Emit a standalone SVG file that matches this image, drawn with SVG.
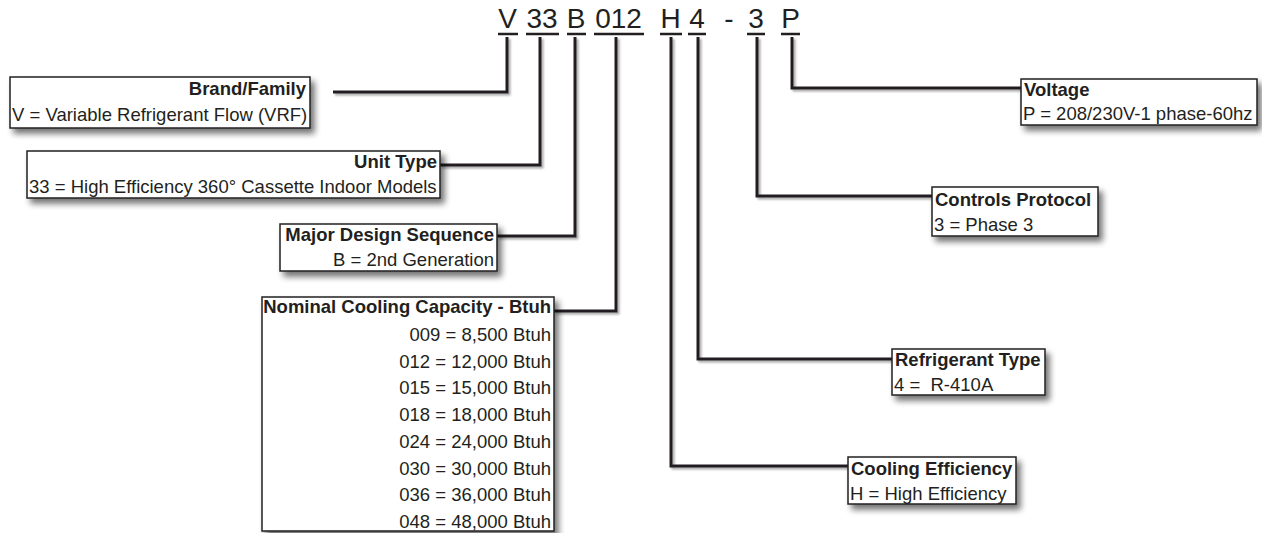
<svg xmlns="http://www.w3.org/2000/svg" width="1262" height="533" viewBox="0 0 1262 533">
<defs>
<filter id="sh" x="-10%" y="-20%" width="130%" height="160%">
<feGaussianBlur in="SourceAlpha" stdDeviation="3"/>
<feOffset dx="4" dy="5" result="b"/>
<feComponentTransfer><feFuncA type="linear" slope="0.55"/></feComponentTransfer>
<feMerge><feMergeNode/><feMergeNode in="SourceGraphic"/></feMerge>
</filter>
<filter id="lsh" x="-10%" y="-10%" width="120%" height="120%">
<feGaussianBlur in="SourceAlpha" stdDeviation="1"/>
<feOffset dx="1.5" dy="1.5" result="b"/>
<feComponentTransfer><feFuncA type="linear" slope="0.35"/></feComponentTransfer>
<feMerge><feMergeNode/><feMergeNode in="SourceGraphic"/></feMerge>
</filter>
</defs>
<style>
text{font-family:"Liberation Sans",Arial,sans-serif;fill:#231f20;white-space:pre}
.code{font-size:28px}
.t{font-size:18.5px;font-weight:bold}
.d{font-size:18.5px}
.r{text-anchor:end}
.box{fill:#fff;stroke:#231f20;stroke-width:1.5;filter:url(#sh)}
.ul{stroke:#231f20;stroke-width:2.5}
.con{fill:none;stroke:#231f20;stroke-width:3;filter:url(#lsh)}
</style>
<rect width="1262" height="533" fill="#fff"/>

<g id="code">
<text class="code" x="507.5" y="28" text-anchor="middle">V</text>
<text class="code" x="542" y="28" text-anchor="middle">33</text>
<text class="code" x="576" y="28" text-anchor="middle">B</text>
<text class="code" x="618.5" y="28" text-anchor="middle">012</text>
<text class="code" x="670.5" y="28" text-anchor="middle">H</text>
<text class="code" x="697" y="28" text-anchor="middle">4</text>
<text class="code" x="729" y="28" text-anchor="middle">-</text>
<text class="code" x="756" y="28" text-anchor="middle">3</text>
<text class="code" x="790.5" y="28" text-anchor="middle">P</text>
<line class="ul" x1="498" y1="34" x2="518" y2="34"/>
<line class="ul" x1="526" y1="34" x2="559" y2="34"/>
<line class="ul" x1="567" y1="34" x2="586" y2="34"/>
<line class="ul" x1="594" y1="34" x2="644" y2="34"/>
<line class="ul" x1="660" y1="34" x2="682" y2="34"/>
<line class="ul" x1="688" y1="34" x2="706" y2="34"/>
<line class="ul" x1="747" y1="34" x2="765" y2="34"/>
<line class="ul" x1="781" y1="34" x2="800" y2="34"/>
</g>

<g id="connectors">
<path class="con" d="M333,92 H507 V37"/>
<path class="con" d="M440,165 H540 V37"/>
<path class="con" d="M497,236 H575 V37"/>
<path class="con" d="M554,311 H616 V37"/>
<path class="con" d="M848,466 H671 V37"/>
<path class="con" d="M892,359 H698 V37"/>
<path class="con" d="M932,196 H757 V37"/>
<path class="con" d="M1021,88 H792 V37"/>
</g>

<g id="brand">
<rect class="box" x="10" y="77" width="300" height="51"/>
<text class="t r" x="306" y="95">Brand/Family</text>
<text class="d" x="12" y="121">V = Variable Refrigerant Flow (VRF)</text>
</g>

<g id="unit-type">
<rect class="box" x="27" y="151" width="413" height="47"/>
<text class="t r" x="437" y="168">Unit Type</text>
<text class="d" x="29" y="193">33 = High Efficiency 360° Cassette Indoor Models</text>
</g>

<g id="major-design">
<rect class="box" x="280" y="224" width="217" height="47"/>
<text class="t r" x="494" y="241">Major Design Sequence</text>
<text class="d r" x="494" y="266">B = 2nd Generation</text>
</g>

<g id="nominal-capacity">
<rect class="box" x="262" y="297" width="292" height="234"/>
<text class="t r" x="551" y="313">Nominal Cooling Capacity - Btuh</text>
<text class="d r" x="551" y="341">009 = 8,500 Btuh</text>
<text class="d r" x="551" y="367.7">012 = 12,000 Btuh</text>
<text class="d r" x="551" y="394.4">015 = 15,000 Btuh</text>
<text class="d r" x="551" y="421.1">018 = 18,000 Btuh</text>
<text class="d r" x="551" y="447.8">024 = 24,000 Btuh</text>
<text class="d r" x="551" y="474.5">030 = 30,000 Btuh</text>
<text class="d r" x="551" y="501.2">036 = 36,000 Btuh</text>
<text class="d r" x="551" y="527.9">048 = 48,000 Btuh</text>
</g>

<g id="voltage">
<rect class="box" x="1021" y="79" width="236" height="46"/>
<text class="t" x="1024" y="96">Voltage</text>
<text class="d" x="1023" y="120">P = 208/230V-1 phase-60hz</text>
</g>

<g id="controls-protocol">
<rect class="box" x="932" y="187" width="166" height="49"/>
<text class="t" x="935" y="206">Controls Protocol</text>
<text class="d" x="934" y="231">3 = Phase 3</text>
</g>

<g id="refrigerant-type">
<rect class="box" x="892" y="349" width="153" height="46"/>
<text class="t" x="895" y="366">Refrigerant Type</text>
<text class="d" x="894" y="391">4 =  R-410A</text>
</g>

<g id="cooling-efficiency">
<rect class="box" x="848" y="457" width="168" height="47"/>
<text class="t" x="851" y="475">Cooling Efficiency</text>
<text class="d" x="850" y="500">H = High Efficiency</text>
</g>
</svg>
